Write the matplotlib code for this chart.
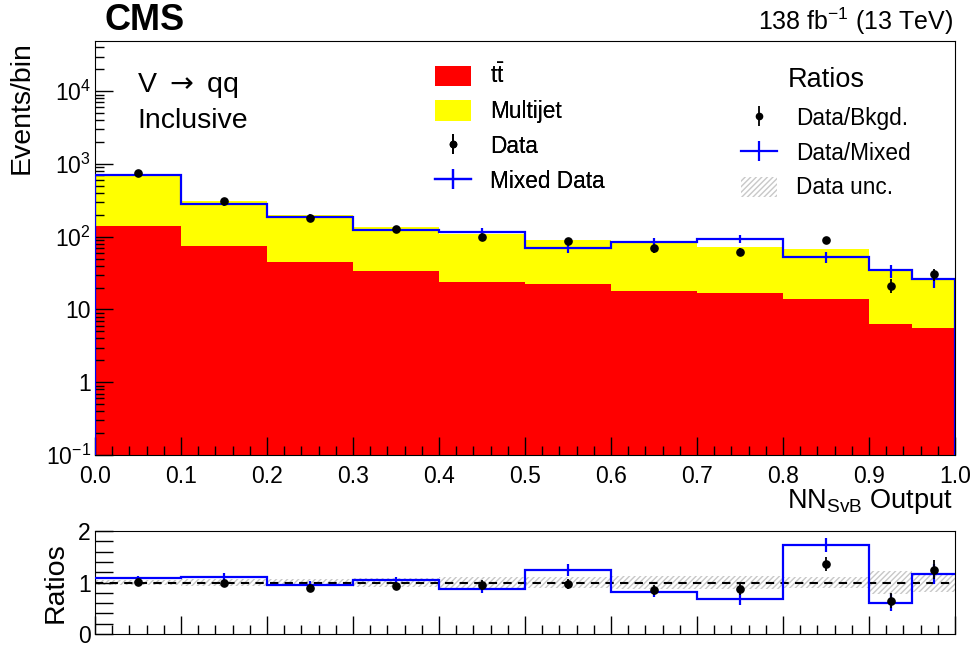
import numpy as np
import matplotlib
matplotlib.use("Agg")
import matplotlib.pyplot as plt
from matplotlib.patches import Patch
from matplotlib.lines import Line2D
from matplotlib.legend_handler import HandlerTuple
from matplotlib.ticker import MultipleLocator, FixedLocator, NullFormatter, LogLocator

plt.rcParams['font.family'] = ['Liberation Sans', 'DejaVu Sans']
plt.rcParams['mathtext.fontset'] = 'custom'
plt.rcParams['mathtext.rm'] = 'Liberation Sans'
plt.rcParams['mathtext.it'] = 'Liberation Sans:italic'
plt.rcParams['mathtext.bf'] = 'Liberation Sans:bold'
plt.rcParams['hatch.linewidth'] = 1.0

# ---------------- data ----------------
bin_edges = [0.0, 0.1, 0.2, 0.3, 0.4, 0.5, 0.6, 0.7, 0.8, 0.9, 0.95, 1.0]
ttbar = [140, 74.5, 45.5, 33.5, 23.6, 22.7, 17.8, 16.7, 13.8, 6.4, 5.6]
multijet = [580, 235, 153, 102, 85, 68, 70, 55, 53, 27, 19.6]
data = [743, 312, 183, 128, 100, 88, 69, 62.4, 90, 21.3, 30.5]
data_err = [27, 18, 13.5, 11.3, 10, 9.4, 8.3, 7.9, 9.5, 4.6, 5.5]
mixed = [700, 285, 189, 124, 116, 71, 85, 93, 52.6, 34.5, 26.2]
mixed_err = [30, 20, 16, 13, 14, 11, 12, 12, 9, 7, 6.5]

ratio_bkg = [1.01, 0.99, 0.90, 0.93, 0.95, 0.97, 0.85, 0.87, 1.36, 0.65, 1.25]
ratio_bkg_err = [0.04, 0.06, 0.07, 0.08, 0.09, 0.10, 0.10, 0.11, 0.14, 0.14, 0.18]
ratio_mixed = [1.08, 1.11, 0.96, 1.04, 0.87, 1.24, 0.82, 0.67, 1.73, 0.61, 1.16]
ratio_mixed_err = [0.04, 0.07, 0.06, 0.07, 0.08, 0.12, 0.10, 0.10, 0.14, 0.17, 0.19]
data_unc = [0.04, 0.06, 0.07, 0.09, 0.10, 0.11, 0.12, 0.12, 0.11, 0.22, 0.18]

x_ticks = [0.0, 0.1, 0.2, 0.3, 0.4, 0.5, 0.6, 0.7, 0.8, 0.9, 1.0]
x_ticklabels = ["0.0", "0.1", "0.2", "0.3", "0.4", "0.5", "0.6", "0.7", "0.8", "0.9", "1.0"]
y_ticks = [0.1, 1, 10, 100, 1000, 10000]
y_ticklabels = [r"$10^{-1}$", "1", "10", r"$10^{2}$", r"$10^{3}$", r"$10^{4}$"]

# ---------------- figure ----------------
W, H = 975, 646
fig = plt.figure(figsize=(W / 100, H / 100), dpi=100)
ax = fig.add_axes([95 / W, 1 - 455 / H, 860 / W, 414 / H])
axr = fig.add_axes([95 / W, 1 - 634 / H, 860 / W, 103 / H])

edges = np.array(bin_edges)
left = edges[:-1]
widths = np.diff(edges)
centers = left + widths / 2
tt = np.array(ttbar)
mj = np.array(multijet)

TICK_FS = 16.5
MS = 5.2

# main panel
ax.bar(left, tt, width=widths, align='edge', color='#ff0000', linewidth=0, zorder=1)
ax.bar(left, mj, width=widths, bottom=tt, align='edge', color='#ffff00', linewidth=0, zorder=1)
ax.stairs(mixed, edges, baseline=1e-3, color='#0000ff', linewidth=1.6, zorder=3)
ax.errorbar(centers, mixed, yerr=mixed_err, fmt='none', ecolor='#0000ff', elinewidth=1.6, zorder=3)
ax.errorbar(centers, data, yerr=data_err, fmt='o', color='black', markersize=MS, elinewidth=1.3, zorder=4)

ax.set_yscale('log')
ax.set_ylim(0.1, 4.9e4)
ax.set_xlim(0, 1)
ax.yaxis.set_major_locator(FixedLocator(y_ticks))
ax.set_yticklabels(y_ticklabels)
ax.yaxis.set_minor_locator(LogLocator(base=10, subs=np.arange(2, 10)))
ax.yaxis.set_minor_formatter(NullFormatter())
ax.set_xticks(x_ticks)
ax.set_xticklabels(x_ticklabels)
ax.xaxis.set_minor_locator(MultipleLocator(0.02))
ax.tick_params(axis='both', which='both', direction='in', labelsize=TICK_FS, top=False, right=False)
ax.tick_params(axis='both', which='major', length=13, width=1)
ax.tick_params(axis='both', which='minor', length=6.5, width=1)
ax.tick_params(axis='x', pad=7)
ax.tick_params(axis='y', pad=3)
ax.set_ylabel("Events/bin", fontsize=20.5, loc='top', va='center')
ax.yaxis.set_label_coords(-(95 - 22) / 860, 1.0)

# ratio panel
unc = np.array(data_unc)
axr.bar(left, 2 * unc, width=widths, bottom=1 - unc, align='edge', fill=False,
        hatch='//////', edgecolor='#c8c8c8', linewidth=0, zorder=1)
axr.axhline(1.0, color='black', linestyle=(0, (4, 3)), linewidth=1.5, zorder=2)
axr.stairs(ratio_mixed, edges, baseline=None, color='#0000ff', linewidth=1.6, zorder=3)
axr.errorbar(centers, ratio_mixed, yerr=ratio_mixed_err, fmt='none', ecolor='#0000ff', elinewidth=1.6, zorder=3)
axr.errorbar(centers, ratio_bkg, yerr=ratio_bkg_err, fmt='o', color='black', markersize=MS, elinewidth=1.3, zorder=4)
axr.set_xlim(0, 1)
axr.set_ylim(0, 2)
axr.set_yticks([0, 1, 2])
axr.set_yticklabels(["0", "1", "2"])
axr.yaxis.set_minor_locator(MultipleLocator(0.2))
axr.set_xticks(x_ticks)
axr.xaxis.set_minor_locator(MultipleLocator(0.02))
axr.tick_params(axis='x', which='both', labelbottom=False)
axr.tick_params(axis='both', which='both', direction='in', labelsize=TICK_FS, top=False, right=False)
axr.tick_params(axis='x', which='major', length=13, width=1)
axr.tick_params(axis='x', which='minor', length=6.5, width=1)
axr.tick_params(axis='y', which='both', length=13, width=1, pad=3)
axr.set_ylabel("Ratios", fontsize=20.5, va='center')
axr.yaxis.set_label_coords(-(95 - 56) / 860, 0.5)

# texts
fig.text(104 / W, 1 - 21 / H, "CMS", fontsize=26, fontweight='bold', ha='left', va='center')
fig.text(953 / W, 1 - 21 / H, r"138 fb$^{-1}$ (13 TeV)", fontsize=18, ha='right', va='center')
fig.text(137 / W, 1 - 85 / H, r"V $\rightarrow$ qq", fontsize=20.5, ha='left', va='center',
         math_fontfamily='dejavusans')
fig.text(137 / W, 1 - 121 / H, "Inclusive", fontsize=20.5, ha='left', va='center')
fig.text(953 / W, 1 - 501 / H, r"NN$_{\mathrm{SvB}}$ Output", fontsize=19.5, ha='right', va='center')

# legends
LEG_FS = 16.3
h_tt = Patch(facecolor='#ff0000', edgecolor='none')
h_mj = Patch(facecolor='#ffff00', edgecolor='none')
h_data = (Line2D([], [], color='black', marker='|', markersize=14, markeredgewidth=1.3, linestyle='none'),
          Line2D([], [], color='black', marker='o', markersize=4.5, linestyle='none'))
h_mixed = (Line2D([], [], color='#0000ff', linewidth=1.6),
           Line2D([], [], color='#0000ff', marker='|', markersize=15, markeredgewidth=1.6, linestyle='none'))
h_unc = Patch(facecolor='none', edgecolor='#c8c8c8', hatch='//////', linewidth=0)

common = dict(loc='upper left', frameon=False, fontsize=LEG_FS, handlelength=1.6, handleheight=1.0,
              handletextpad=0.85, labelspacing=0.52, borderaxespad=0, borderpad=0,
              handler_map={tuple: HandlerTuple(ndivide=1)})
leg1 = fig.legend([h_tt, h_mj, h_data, h_mixed],
                  [r"$\mathrm{t}\bar{\mathrm{t}}$", "Multijet", "Data", "Mixed Data"],
                  bbox_to_anchor=(435 / W, 1 - 64 / H), **common)
fig.add_artist(leg1)
leg2 = fig.legend([h_data, h_mixed, h_unc],
                  ["Data/Bkgd.", "Data/Mixed", "Data unc."],
                  bbox_to_anchor=(741 / W, 1 - 67 / H), title="Ratios", title_fontsize=19.5, **common)
leg2._legend_box.align = "center"
leg2._legend_box.sep = 10

fig.savefig("out.png", dpi=100)
